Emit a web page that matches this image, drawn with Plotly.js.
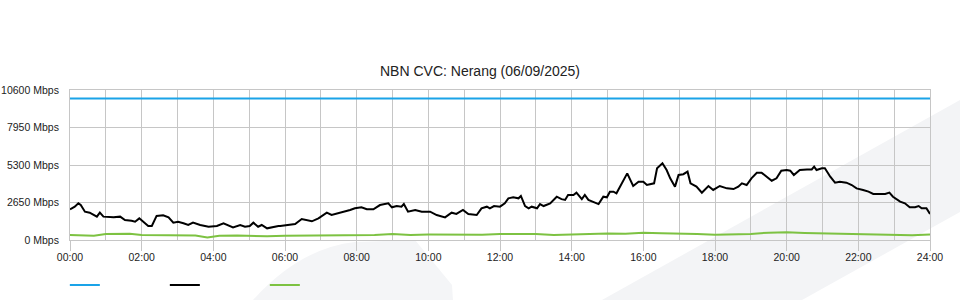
<!DOCTYPE html>
<html>
<head>
<meta charset="utf-8">
<script src="https://cdn.plot.ly/plotly-3.0.1.min.js"></script>
<style>html,body{margin:0;padding:0;background:#fff;}#chart{width:960px;height:300px;}</style>
</head>
<body>
<div id="chart"></div>
<script>
// ---- data (minutes after midnight, Mbps) ----
const capacityMinutes = [0, 1440];
const capacityMbps = [10000, 10000];

const trafficMinutes = [0,8,14,18,25,33,45,50,56,73,84,92,103,109,116,123,131,137,145,156,165,173,181,190,198,206,218,232,246,257,265,273,285,293,301,307,315,321,330,340,349,352,363,377,388,396,405,416,430,438,449,460,469,477,488,497,508,519,533,539,547,555,559,566,578,589,603,614,622,628,639,647,658,667,681,689,698,703,710,720,728,734,742,751,755,762,768,773,782,787,793,804,815,823,829,834,843,848,857,862,868,876,885,893,899,904,910,915,924,933,943,952,960,966,978,983,992,999,1005,1013,1019,1027,1034,1039,1049,1058,1069,1077,1088,1100,1111,1119,1125,1133,1141,1150,1158,1166,1175,1183,1191,1200,1206,1212,1222,1234,1242,1246,1250,1259,1264,1273,1281,1289,1300,1309,1317,1328,1337,1345,1353,1365,1372,1378,1390,1398,1406,1415,1421,1426,1434,1440];
const trafficMbps = [2170,2355,2590,2470,2000,1930,1650,1930,1650,1600,1650,1410,1365,1295,1530,1295,990,990,1700,1745,1600,1225,1295,1180,1060,1225,1060,940,990,1180,1060,895,1060,940,990,1225,940,1060,825,940,990,990,1060,1130,1480,1410,1320,1530,1930,1765,1885,2000,2120,2240,2310,2170,2170,2470,2590,2310,2400,2355,2540,2000,2120,2000,2000,1765,1700,1600,1930,1840,2120,1840,1765,2240,2355,2240,2400,2355,2590,2945,3015,2945,3110,2400,2240,2355,2240,2540,2400,2590,3060,2890,2830,3180,3180,3345,2890,3180,2830,2710,2540,3060,3015,3415,3415,3300,4005,4710,3815,4120,4120,3885,4005,5065,5420,4945,4360,3770,4595,4650,4830,4005,3770,3345,3815,3535,3815,3650,3600,3770,4005,3885,4360,4755,4755,4475,4190,4360,4900,4945,4900,4595,4945,4990,4990,5180,4945,5065,5065,4475,4050,4120,4050,3885,3650,3535,3415,3250,3250,3250,3345,3060,2710,2590,2310,2310,2400,2240,2240,1840];

const lowMinutes = [0,20,40,60,80,100,120,150,180,210,230,250,280,300,330,360,390,420,450,480,510,540,570,600,630,660,690,720,750,780,810,840,870,900,930,960,990,1020,1050,1080,1110,1140,1170,1200,1230,1260,1290,1320,1350,1380,1410,1440];
const lowMbps = [350,340,300,420,450,440,360,340,330,320,180,300,320,310,260,300,300,330,330,340,350,420,360,380,370,400,370,420,430,420,350,390,460,460,440,520,480,470,420,370,400,430,520,540,500,470,470,420,380,330,330,380];

const xTickVals = [0,2,4,6,8,10,12,14,16,18,20,22,24];
const xTickText = ['00:00','02:00','04:00','06:00','08:00','10:00','12:00','14:00','16:00','18:00','20:00','22:00','24:00'];
const yTickVals = [0,2650,5300,7950,10600];
const yTickText = ['0 Mbps','2650 Mbps','5300 Mbps','7950 Mbps','10600 Mbps'];

const toHours = arr => arr.map(m => m/60);

const traces = [
  {x: toHours(capacityMinutes), y: capacityMbps, type:'scatter', mode:'lines', name:'', line:{color:'#1aa3e8', width:2}, hoverinfo:'skip'},
  {x: toHours(trafficMinutes), y: trafficMbps, type:'scatter', mode:'lines', name:'', line:{color:'#000000', width:2}, hoverinfo:'skip'},
  {x: toHours(lowMinutes), y: lowMbps, type:'scatter', mode:'lines', name:'', line:{color:'#7dc242', width:2}, hoverinfo:'skip'}
];

// pixel -> paper helpers for the background watermark
const L = 70, R = 930, T = 90, B = 240;
const px = X => ((X - L) / (R - L)).toFixed(4);
const py = Y => ((B - Y) / (B - T)).toFixed(4);

const gridC = '#c6c6c6';
const layout = {
  width: 960, height: 300,
  margin: {l: L, r: 960 - R, t: T, b: 300 - B, autoexpand: false},
  paper_bgcolor: '#ffffff',
  plot_bgcolor: 'rgba(0,0,0,0)',
  font: {family: '"Liberation Sans", Arial, sans-serif', color: '#222', size: 10.5},
  title: {text: 'NBN CVC: Nerang (06/09/2025)', font: {size: 14, color: '#222'}, x: 0.5, xref: 'container', y: 1 - 71/300, yref: 'container', yanchor: 'middle'},
  showlegend: true,
  legend: {orientation: 'h', x: -0.006, xanchor: 'left', y: -0.3, yanchor: 'middle', entrywidth: 55, entrywidthmode: 'pixels', font: {size: 10}, bgcolor: 'rgba(0,0,0,0)'},
  xaxis: {
    range: [0, 24], tickmode: 'array', tickvals: xTickVals, ticktext: xTickText,
    ticks: 'outside', ticklen: 10, tickcolor: gridC, tickwidth: 1, ticklabelstandoff: -3,
    showgrid: true, gridcolor: gridC, gridwidth: 1,
    minor: {tickmode: 'linear', tick0: 0, dtick: 1, showgrid: true, gridcolor: gridC, gridwidth: 1, ticks: ''},
    zeroline: false, showline: true, linecolor: gridC, mirror: true, fixedrange: true,
    tickfont: {size: 10.5, color: '#222'}
  },
  yaxis: {
    range: [0, 10600], tickmode: 'array', tickvals: yTickVals, ticktext: yTickText,
    ticks: '', ticklabelstandoff: 8,
    showgrid: true, gridcolor: gridC, gridwidth: 1,
    zeroline: false, showline: true, linecolor: gridC, mirror: true, fixedrange: true,
    tickfont: {size: 10.5, color: '#222'}
  },
  shapes: [
    {type: 'path', xref: 'paper', yref: 'paper', layer: 'below', line: {width: 0}, fillcolor: '#f3f4f6',
     path: `M ${px(602)},${py(300)} L ${px(960)},${py(100)} L ${px(960)},${py(212)} L ${px(802)},${py(300)} Z`},
    {type: 'path', xref: 'paper', yref: 'paper', layer: 'below', line: {width: 0}, fillcolor: '#f4f5f7',
     path: `M ${px(253)},${py(300)} Q ${px(300)},${py(248)} ${px(355)},${py(242)} L ${px(415)},${py(240)} L ${px(452)},${py(285)} L ${px(453)},${py(300)} Z`}
  ]
};

Plotly.newPlot('chart', traces, layout, {staticPlot: true, displayModeBar: false});
</script>
</body>
</html>
